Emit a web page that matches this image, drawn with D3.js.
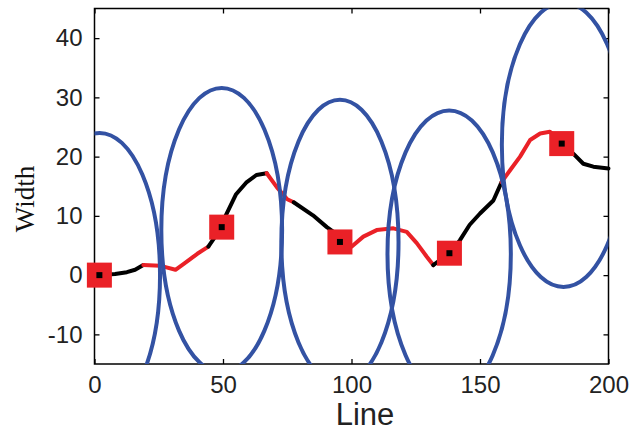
<!DOCTYPE html>
<html>
<head>
<meta charset="utf-8">
<script src="https://cdn.jsdelivr.net/npm/d3@7"></script>
<style>
  html, body { margin: 0; padding: 0; background: #fff; }
  svg { display: block; }
</style>
</head>
<body>
<svg id="chart" width="630" height="435"></svg>
<script>
// Axis ticks
const xTicks = [0, 50, 100, 150, 200];
const yTicks = [-10, 0, 10, 20, 30, 40];

// Traced path (alternating black / red sections)
const pathX = [1.9, 8, 12.6, 15.8, 19, 25.5, 28, 31.5, 35, 40, 44.3, 49.5, 51, 55, 59, 63, 67, 71, 75, 77.5,
               85, 90.4, 93, 95.5, 100, 104.6, 109.8, 116.3, 121.5, 125.4, 129.3, 131.8, 138.1, 142.2, 146,
               150, 155.2, 158.4, 161.7, 165.6, 169.5, 173.4, 177.2, 181.8, 186.3, 190.2, 194.1, 200];
const pathY = [0, 0.2, 0.5, 0.9, 1.7, 1.6, 1.3, 0.9, 2.0, 3.6, 4.8, 8.1, 10, 13.6, 15.6, 16.9, 17.2, 14.8, 12.8, 12.3,
               10.1, 8.1, 7.3, 5.6, 4.8, 6.5, 7.6, 7.9, 7.3, 5.4, 3.1, 1.7, 3.7, 5.9, 8.5,
               10.4, 12.6, 15.7, 17.7, 20, 22.8, 23.9, 24.2, 22.2, 20.5, 18.8, 18.3, 18];
// Indices where the path colour switches
const sectionBreaks = [0, 4, 10, 16, 19, 23, 31, 37, 43, 47];
const sectionColors = ["#000000", "#ea2127"];

// Square markers
const markerX = [1.9, 49.5, 95.5, 138.1, 181.8];
const markerY = [0, 8.1, 5.6, 3.7, 22.2];

// Ellipses around the markers
const ellipseCx = [2, 49.5, 95.5, 138, 182.5];
const ellipseCy = [0, 7.6, 5.6, 3.6, 22];
const ellipseRx = [23.5, 23.5, 22.8, 24, 24];
const ellipseRy = [24, 24, 24, 24.2, 24];

const svg = d3.select("#chart");
const plotLeft = 94.5, plotRight = 608.5, plotTop = 8.5, plotBottom = 364;

const x = d3.scaleLinear().domain([0, 200]).range([plotLeft, plotRight]);
const y = d3.scaleLinear().domain([-15, 45]).range([plotBottom, plotTop]);

svg.append("defs").append("clipPath").attr("id", "plotClip")
  .append("rect")
  .attr("x", plotLeft).attr("y", plotTop)
  .attr("width", plotRight - plotLeft).attr("height", plotBottom - plotTop);

// Axes with inward ticks on all four sides
const tickFont = "'Liberation Sans', Arial, sans-serif";
const plainNumber = d => String(d);
const gx = svg.append("g").attr("transform", `translate(0,${plotBottom})`)
  .call(d3.axisBottom(x).tickValues(xTicks).tickFormat(plainNumber).tickSize(-5).tickPadding(12));
const gy = svg.append("g").attr("transform", `translate(${plotLeft},0)`)
  .call(d3.axisLeft(y).tickValues(yTicks).tickFormat(plainNumber).tickSize(-5).tickPadding(12));
const gt = svg.append("g").attr("transform", `translate(0,${plotTop})`)
  .call(d3.axisTop(x).tickValues(xTicks).tickSize(-5).tickFormat(""));
const gr = svg.append("g").attr("transform", `translate(${plotRight},0)`)
  .call(d3.axisRight(y).tickValues(yTicks).tickSize(-5).tickFormat(""));

[gx, gy, gt, gr].forEach(g => {
  g.select(".domain").remove();
  g.selectAll(".tick line").attr("stroke", "#000").attr("stroke-width", 1.3);
  g.selectAll(".tick text")
    .attr("fill", "#222")
    .style("font-family", tickFont)
    .style("font-size", "24px");
});

// Frame
svg.append("rect")
  .attr("x", plotLeft).attr("y", plotTop)
  .attr("width", plotRight - plotLeft).attr("height", plotBottom - plotTop)
  .attr("fill", "none").attr("stroke", "#000").attr("stroke-width", 1.5);

// Path sections
const line = d3.line().x(i => x(pathX[i])).y(i => y(pathY[i]));
const sections = d3.range(sectionBreaks.length - 1).map(k =>
  d3.range(sectionBreaks[k], sectionBreaks[k + 1] + 1));
svg.append("g").selectAll("path")
  .data(sections)
  .join("path")
  .attr("d", line)
  .attr("fill", "none")
  .attr("stroke", (d, k) => sectionColors[k % 2])
  .attr("stroke-width", 4)
  .attr("stroke-linejoin", "round")
  .attr("stroke-linecap", "round");

// Ellipses
svg.append("g").attr("clip-path", "url(#plotClip)")
  .selectAll("ellipse")
  .data(d3.range(ellipseCx.length))
  .join("ellipse")
  .attr("cx", i => x(ellipseCx[i]))
  .attr("cy", i => y(ellipseCy[i]))
  .attr("rx", i => x(ellipseCx[i] + ellipseRx[i]) - x(ellipseCx[i]))
  .attr("ry", i => y(ellipseCy[i]) - y(ellipseCy[i] + ellipseRy[i]))
  .attr("fill", "none")
  .attr("stroke", "#3352a3")
  .attr("stroke-width", 4);

// Markers
const ms = 25, dot = 6;
const mk = svg.append("g").selectAll("g")
  .data(d3.range(markerX.length))
  .join("g")
  .attr("transform", i => `translate(${x(markerX[i])},${y(markerY[i])})`);
mk.append("rect")
  .attr("x", -ms / 2).attr("y", -ms / 2).attr("width", ms).attr("height", ms)
  .attr("fill", "#ea2127");
mk.append("rect")
  .attr("x", -dot / 2).attr("y", -dot / 2).attr("width", dot).attr("height", dot)
  .attr("fill", "#000");

// Axis titles
svg.append("text")
  .attr("x", 365).attr("y", 425)
  .attr("text-anchor", "middle")
  .attr("fill", "#222")
  .style("font-family", tickFont)
  .style("font-size", "31px")
  .text("Line");

svg.append("text")
  .attr("transform", "translate(34,199) rotate(-90)")
  .attr("text-anchor", "middle")
  .attr("fill", "#111")
  .style("font-family", "'Liberation Serif', 'Times New Roman', serif")
  .style("font-size", "27px")
  .text("Width");
</script>
</body>
</html>
